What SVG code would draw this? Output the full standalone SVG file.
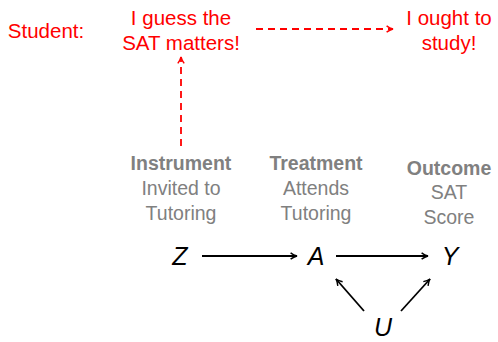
<svg xmlns="http://www.w3.org/2000/svg" width="498" height="342" viewBox="0 0 498 342">
<defs>
<style>
.r{font-family:"Liberation Sans","DejaVu Sans",sans-serif;font-size:20.5px;fill:#ff0000;text-anchor:middle}
.g{font-family:"Liberation Sans","DejaVu Sans",sans-serif;font-size:19.5px;fill:#808080;text-anchor:middle}
.b{font-weight:bold}
.m{font-family:"Liberation Sans","DejaVu Sans",sans-serif;font-size:25px;font-style:italic;fill:#000;text-anchor:middle}
.e{stroke:#000;stroke-width:1.8;fill:none;marker-end:url(#ah)}
.d{stroke:#ff0000;stroke-width:1.8;fill:none;stroke-dasharray:7,5;marker-end:url(#ahr)}
</style>
<marker id="ah" viewBox="0 0 10 10" refX="9" refY="5" markerWidth="8" markerHeight="8" orient="auto" markerUnits="userSpaceOnUse"><path d="M1,1 Q5,4 9,5 Q5,6 1,9" fill="none" stroke="#000" stroke-width="1.8"/></marker>
<marker id="ahr" viewBox="0 0 10 10" refX="9" refY="5" markerWidth="8" markerHeight="8" orient="auto" markerUnits="userSpaceOnUse"><path d="M1,1 Q5,4 9,5 Q5,6 1,9" fill="none" stroke="#ff0000" stroke-width="1.8"/></marker>
</defs>
<g id="student"><text class="r" x="46" y="38">Student:</text></g>
<g id="guess"><text class="r" x="181" y="25">I guess the</text><text class="r" x="181" y="50">SAT matters!</text></g>
<g id="ought"><text class="r" x="449" y="25">I ought to</text><text class="r" x="449" y="50">study!</text></g>
<g id="instrument"><text class="g b" x="181" y="170">Instrument</text><text class="g" x="181" y="195">Invited to</text><text class="g" x="181" y="220">Tutoring</text></g>
<g id="treatment"><text class="g b" x="316" y="170">Treatment</text><text class="g" x="316" y="195">Attends</text><text class="g" x="316" y="220">Tutoring</text></g>
<g id="outcome"><text class="g b" x="449" y="175">Outcome</text><text class="g" x="449" y="199">SAT</text><text class="g" x="449" y="224">Score</text></g>
<g id="Z"><text class="m" x="180" y="265">Z</text></g>
<g id="A"><text class="m" x="316" y="265">A</text></g>
<g id="Y"><text class="m" x="450" y="265">Y</text></g>
<g id="U"><text class="m" x="383" y="336">U</text></g>
<g id="connectors">
<path class="e" d="M202,256 H297"/>
<path class="e" d="M336,256 H428"/>
<path class="e" d="M364,311 L336,279"/>
<path class="e" d="M401,311 L430,279"/>
<path class="d" d="M256,29 H393"/>
<path class="d" d="M181,146 V57"/>
</g>
</svg>
